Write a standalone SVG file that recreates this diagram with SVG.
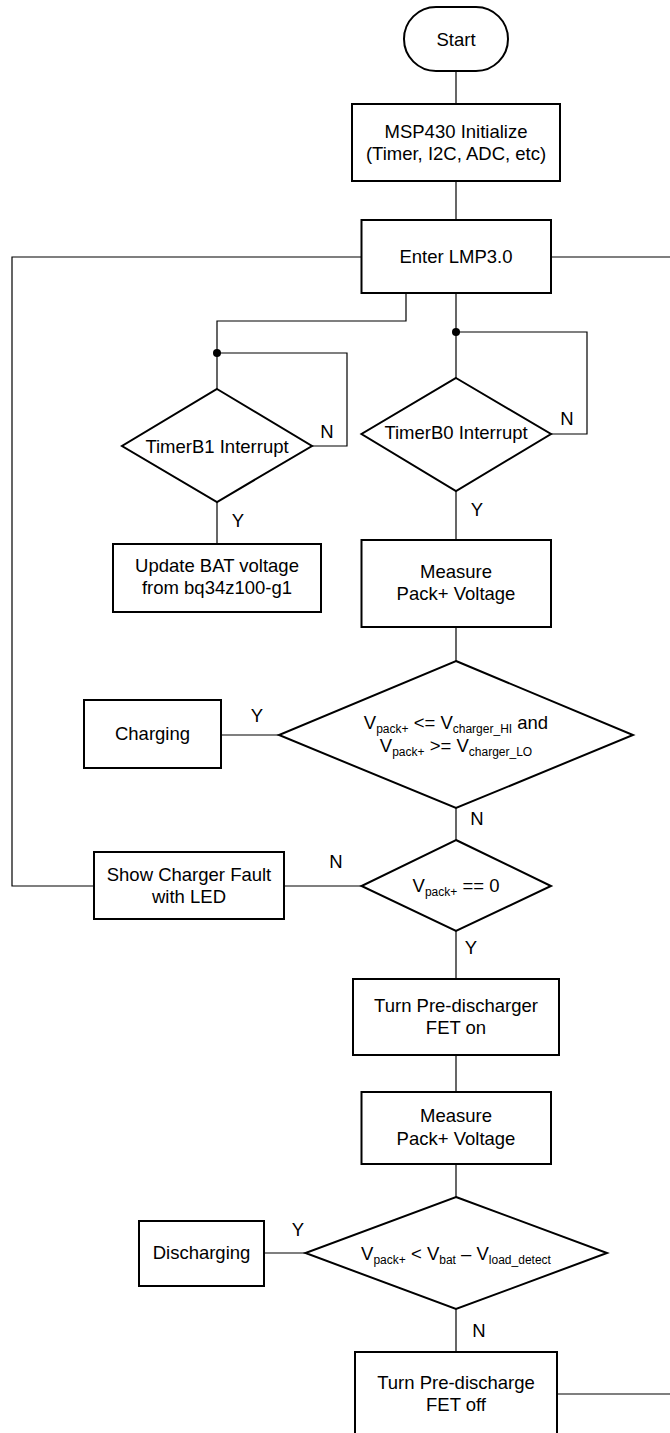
<svg xmlns="http://www.w3.org/2000/svg" width="670" height="1433" viewBox="0 0 670 1433">
<style>
.n{fill:#fff;stroke:#000;stroke-width:2}
.c{fill:none;stroke:#000;stroke-width:1.2}
text{font-family:"Liberation Sans",Arial,sans-serif;font-size:18.5px;fill:#000;text-anchor:middle}
.s{font-size:12px}
.l{text-anchor:middle}
</style>
<rect width="670" height="1433" fill="#fff"/>
<g id="connectors">
<path class="c" d="M456,71V104"/>
<path class="c" d="M456,181V220"/>
<path class="c" d="M406,293V321H217V389"/>
<path class="c" d="M312,446H347V353H217"/>
<path class="c" d="M456,293V378"/>
<path class="c" d="M551,434H587V332H456"/>
<path class="c" d="M217,502V544"/>
<path class="c" d="M456,491V540"/>
<path class="c" d="M456,627V661"/>
<path class="c" d="M279,735H221"/>
<path class="c" d="M456,808V840"/>
<path class="c" d="M361.5,886H284"/>
<path class="c" d="M94,886H12V257H361.5"/>
<path class="c" d="M551,257H670"/>
<path class="c" d="M456,931V979"/>
<path class="c" d="M456,1055V1092"/>
<path class="c" d="M456,1164V1197"/>
<path class="c" d="M305.5,1253H264"/>
<path class="c" d="M456,1309V1352"/>
<path class="c" d="M557,1394H670"/>
<circle cx="217" cy="353" r="4" fill="#000"/>
<circle cx="456" cy="332" r="4" fill="#000"/>
<text x="327" y="438">N</text>
<text x="567" y="425">N</text>
<text x="238" y="527">Y</text>
<text x="477" y="516">Y</text>
<text x="257" y="722">Y</text>
<text x="477" y="825">N</text>
<text x="336" y="868">N</text>
<text x="471" y="954">Y</text>
<text x="298" y="1236">Y</text>
<text x="479" y="1337">N</text>
</g>
<g id="start">
<rect class="n" x="404" y="7" width="104" height="64" rx="32"/>
<text x="456" y="46">Start</text>
</g>
<g id="init">
<rect class="n" x="352" y="104" width="208" height="77"/>
<text x="456" y="138">MSP430 Initialize</text>
<text x="456" y="160">(Timer, I2C, ADC, etc)</text>
</g>
<g id="enter">
<rect class="n" x="361.5" y="220" width="189.5" height="73"/>
<text x="456" y="263">Enter LMP3.0</text>
</g>
<g id="timerb1">
<polygon class="n" points="217,389 312,446 217,502 122,446"/>
<text x="217" y="453">TimerB1 Interrupt</text>
</g>
<g id="timerb0">
<polygon class="n" points="456,378 551,434 456,491 361.5,434"/>
<text x="456" y="439">TimerB0 Interrupt</text>
</g>
<g id="updatebat">
<rect class="n" x="113" y="544" width="208" height="68"/>
<text x="217" y="572">Update BAT voltage</text>
<text x="217" y="594">from bq34z100-g1</text>
</g>
<g id="measure1">
<rect class="n" x="361.5" y="540" width="189.5" height="87"/>
<text x="456" y="578">Measure</text>
<text x="456" y="600">Pack+ Voltage</text>
</g>
<g id="chargecheck">
<polygon class="n" points="456,661 633,735 456,808 279,735"/>
<text x="456" y="729">V<tspan class="s" dy="4">pack+</tspan><tspan dy="-4"> &lt;= V</tspan><tspan class="s" dy="4">charger_HI</tspan><tspan dy="-4"> and</tspan></text>
<text x="456" y="752">V<tspan class="s" dy="4">pack+</tspan><tspan dy="-4"> &gt;= V</tspan><tspan class="s" dy="4">charger_LO</tspan></text>
</g>
<g id="charging">
<rect class="n" x="84" y="700" width="137" height="68"/>
<text x="152.5" y="740">Charging</text>
</g>
<g id="zerocheck">
<polygon class="n" points="456,840 551,886 456,931 361.5,886"/>
<text x="456" y="892">V<tspan class="s" dy="4">pack+</tspan><tspan dy="-4"> == 0</tspan></text>
</g>
<g id="fault">
<rect class="n" x="94" y="852" width="190" height="67"/>
<text x="189" y="881">Show Charger Fault</text>
<text x="189" y="903">with LED</text>
</g>
<g id="predischon">
<rect class="n" x="353" y="979" width="206" height="76"/>
<text x="456" y="1012">Turn Pre-discharger</text>
<text x="456" y="1034">FET on</text>
</g>
<g id="measure2">
<rect class="n" x="361.5" y="1092" width="189.5" height="72"/>
<text x="456" y="1122">Measure</text>
<text x="456" y="1145">Pack+ Voltage</text>
</g>
<g id="dischargecheck">
<polygon class="n" points="456,1197 607,1253 456,1309 305.5,1253"/>
<text x="456" y="1260">V<tspan class="s" dy="4">pack+</tspan><tspan dy="-4"> &lt; V</tspan><tspan class="s" dy="4">bat</tspan><tspan dy="-4"> – V</tspan><tspan class="s" dy="4">load_detect</tspan></text>
</g>
<g id="discharging">
<rect class="n" x="139" y="1221" width="125" height="65"/>
<text x="201.5" y="1259">Discharging</text>
</g>
<g id="predischoff">
<rect class="n" x="355" y="1352" width="202" height="90"/>
<text x="456" y="1389">Turn Pre-discharge</text>
<text x="456" y="1411">FET off</text>
</g>
</svg>
